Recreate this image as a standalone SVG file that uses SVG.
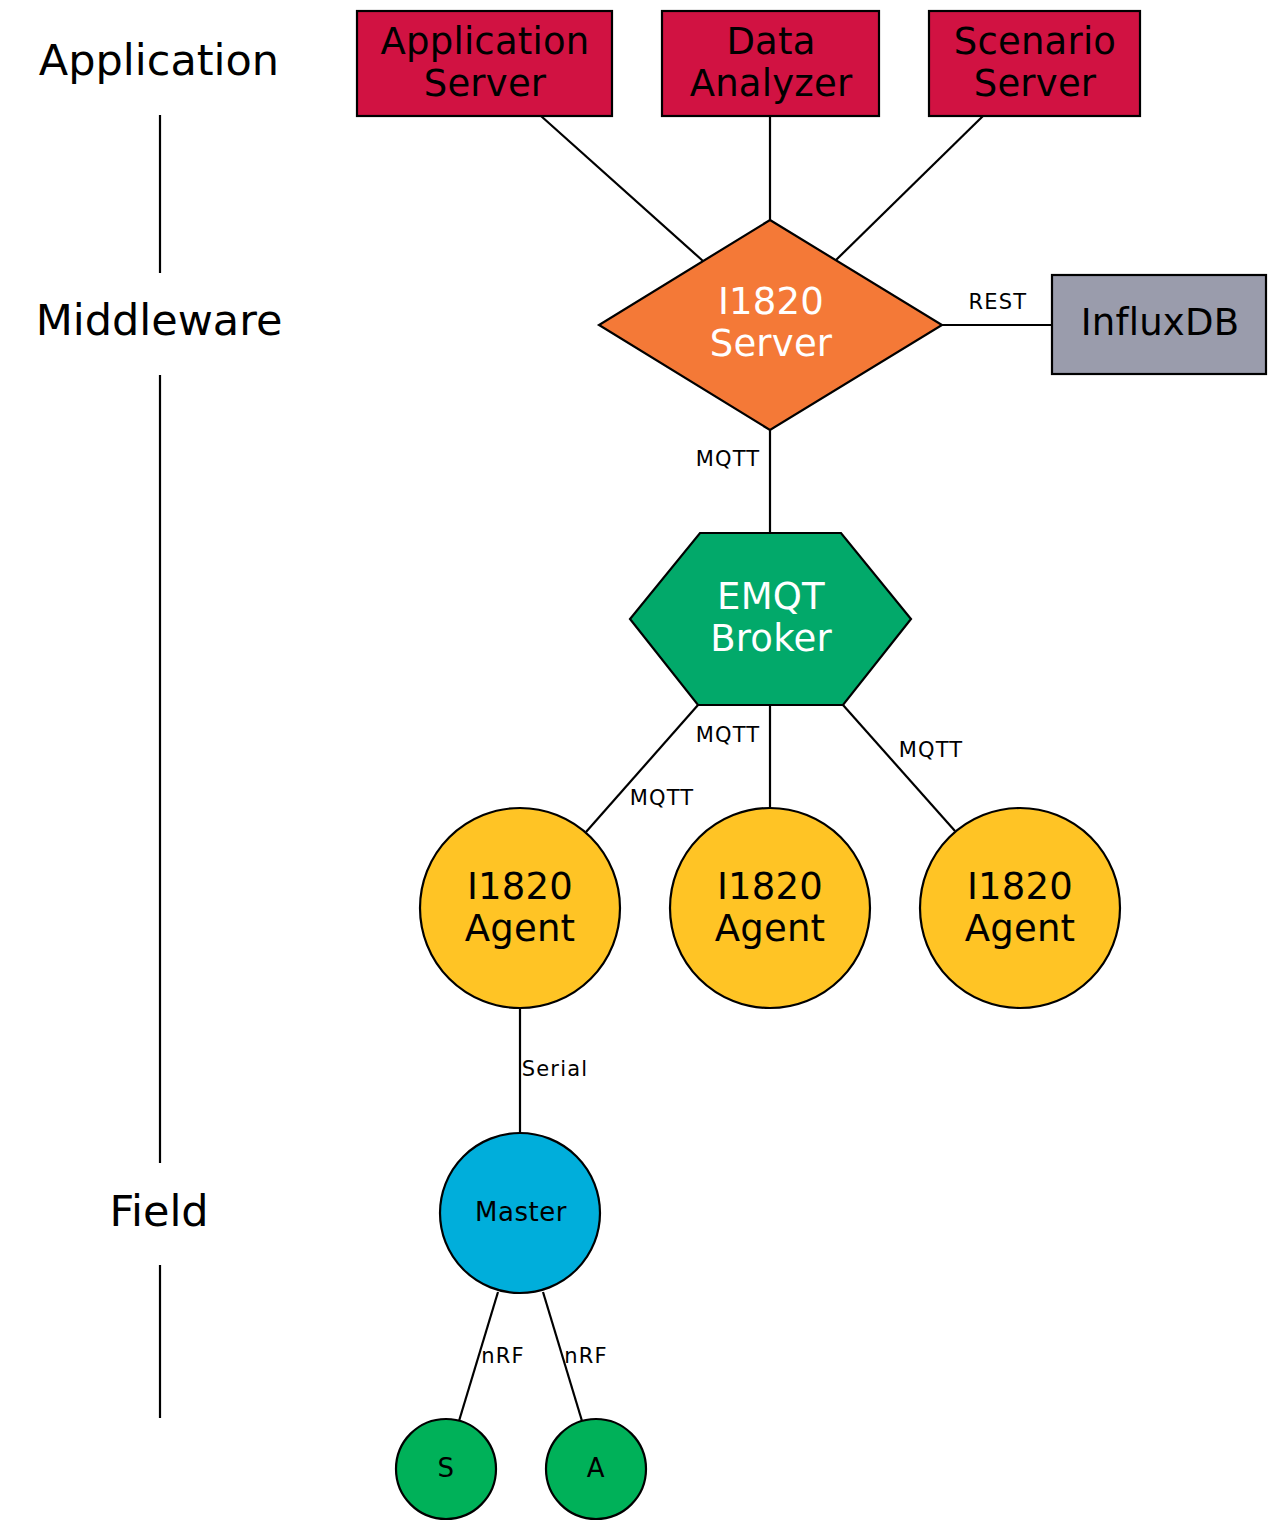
<svg xmlns="http://www.w3.org/2000/svg" width="1278" height="1531" viewBox="0 0 1278 1531">
<style>
  .shape { stroke: #000; stroke-width: 2.2; }
  .edge { stroke: #000; stroke-width: 2.2; fill: none; }
  text { font-family: "DejaVu Sans", "Liberation Sans", sans-serif; text-anchor: middle; }
  .node { font-size: 37px; letter-spacing: 0.2px; fill: #000; }
  .white { fill: #fff; }
  .layer { font-size: 43px; fill: #000; }
  .lbl { font-size: 21px; letter-spacing: 1.2px; fill: #000; }
  .small { font-size: 26px; letter-spacing: 0.5px; fill: #000; }
</style>
<rect width="1278" height="1531" fill="#fff"/>

<g id="layers">
  <text class="layer" x="159" y="75">Application</text>
  <text class="layer" x="159" y="335">Middleware</text>
  <text class="layer" x="159" y="1226">Field</text>
  <line class="edge" x1="160" y1="115" x2="160" y2="273"/>
  <line class="edge" x1="160" y1="375" x2="160" y2="1163"/>
  <line class="edge" x1="160" y1="1265" x2="160" y2="1418"/>
</g>

<g id="connectors">
  <line class="edge" x1="541" y1="116" x2="703" y2="261"/>
  <line class="edge" x1="770" y1="116" x2="770" y2="220"/>
  <line class="edge" x1="983" y1="116" x2="836" y2="260"/>
  <line class="edge" x1="942" y1="325" x2="1052" y2="325"/>
  <line class="edge" x1="770" y1="430" x2="770" y2="533"/>
  <line class="edge" x1="698" y1="705" x2="586" y2="832"/>
  <line class="edge" x1="770" y1="705" x2="770" y2="808"/>
  <line class="edge" x1="843" y1="705" x2="955" y2="831"/>
  <line class="edge" x1="520" y1="1008" x2="520" y2="1133"/>
  <line class="edge" x1="498" y1="1292" x2="459" y2="1421"/>
  <line class="edge" x1="543" y1="1292" x2="582" y2="1421"/>
  <text class="lbl" x="998" y="309">REST</text>
  <text class="lbl" x="728" y="466">MQTT</text>
  <text class="lbl" x="728" y="742">MQTT</text>
  <text class="lbl" x="662" y="805">MQTT</text>
  <text class="lbl" x="931" y="757">MQTT</text>
  <text class="lbl" x="555" y="1076">Serial</text>
  <text class="lbl" x="503" y="1363">nRF</text>
  <text class="lbl" x="586" y="1363">nRF</text>
</g>

<g id="app-server">
  <rect class="shape" x="357" y="11" width="255" height="105" fill="#d11242"/>
  <text class="node" x="485" y="54">Application</text>
  <text class="node" x="485" y="96">Server</text>
</g>
<g id="data-analyzer">
  <rect class="shape" x="662" y="11" width="217" height="105" fill="#d11242"/>
  <text class="node" x="771" y="54">Data</text>
  <text class="node" x="771" y="96">Analyzer</text>
</g>
<g id="scenario-server">
  <rect class="shape" x="929" y="11" width="211" height="105" fill="#d11242"/>
  <text class="node" x="1035" y="54">Scenario</text>
  <text class="node" x="1035" y="96">Server</text>
</g>

<g id="i1820-server">
  <polygon class="shape" points="770,220 942,325 770,430 599,325" fill="#f47937"/>
  <text class="node white" x="771" y="314">I1820</text>
  <text class="node white" x="771" y="356">Server</text>
</g>

<g id="influxdb">
  <rect class="shape" x="1052" y="275" width="214" height="99" fill="#9a9cac"/>
  <text class="node" x="1160" y="335">InfluxDB</text>
</g>

<g id="emqt-broker">
  <polygon class="shape" points="700,533 841,533 911,619 843,705 698,705 630,619" fill="#02a96a"/>
  <text class="node white" x="771" y="609">EMQT</text>
  <text class="node white" x="771" y="651">Broker</text>
</g>

<g id="agent-1">
  <circle class="shape" cx="520" cy="908" r="100" fill="#ffc425"/>
  <text class="node" x="520" y="899">I1820</text>
  <text class="node" x="520" y="941">Agent</text>
</g>
<g id="agent-2">
  <circle class="shape" cx="770" cy="908" r="100" fill="#ffc425"/>
  <text class="node" x="770" y="899">I1820</text>
  <text class="node" x="770" y="941">Agent</text>
</g>
<g id="agent-3">
  <circle class="shape" cx="1020" cy="908" r="100" fill="#ffc425"/>
  <text class="node" x="1020" y="899">I1820</text>
  <text class="node" x="1020" y="941">Agent</text>
</g>

<g id="master">
  <circle class="shape" cx="520" cy="1213" r="80" fill="#00aedb"/>
  <text class="small" x="521" y="1221">Master</text>
</g>
<g id="sensor">
  <circle class="shape" cx="446" cy="1469" r="50" fill="#00b159"/>
  <text class="small" x="446" y="1477">S</text>
</g>
<g id="actuator">
  <circle class="shape" cx="596" cy="1469" r="50" fill="#00b159"/>
  <text class="small" x="596" y="1477">A</text>
</g>
</svg>
